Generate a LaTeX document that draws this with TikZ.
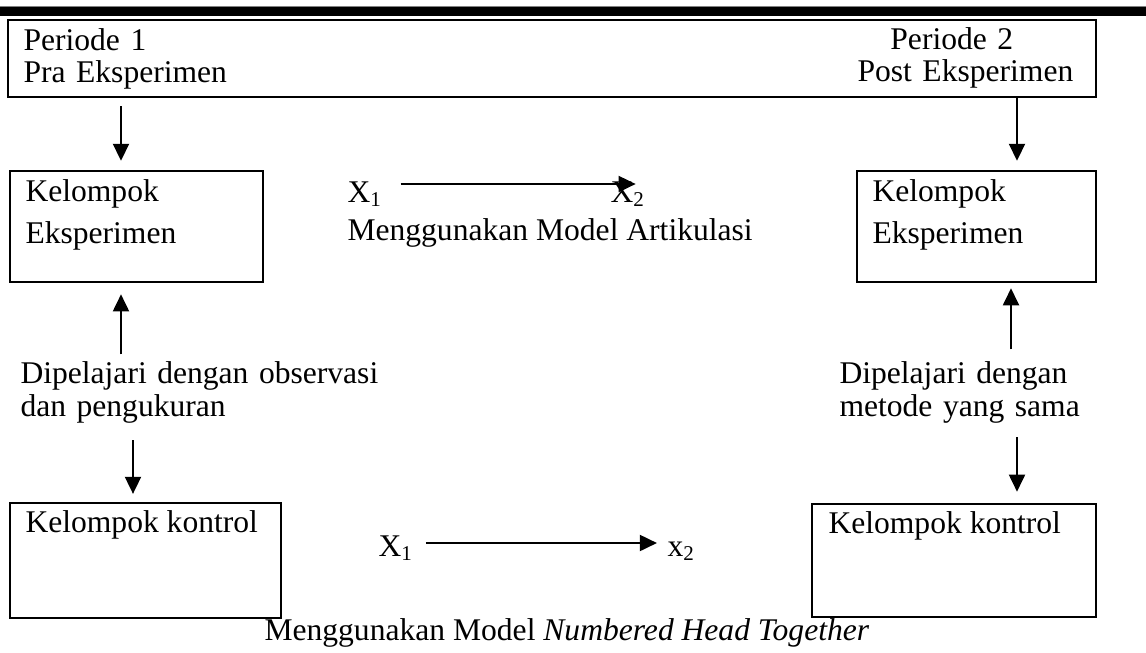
\documentclass[tikz,border=0pt]{standalone}
\usepackage{fontspec}
\setmainfont{Liberation Serif}
\usetikzlibrary{arrows.meta}
\usetikzlibrary{fit}

\tikzset{
  kotak/.style={draw, line width=0.9pt, inner sep=0pt},
  teks/.style={inner sep=0pt, anchor=base west, font=\fontsize{12}{12.9}\selectfont},
  blok/.style={teks, text width=250pt, align=left},
  panah/.style={line width=1pt, -{Triangle[width=6pt,length=6.5pt]}}
}

\begin{document}
\begin{tikzpicture}[x=0.38pt, y=-0.38pt]
  \useasboundingbox (0,0) rectangle (1146,652);
  % garis kepala halaman
  \draw[gray, line width=0.4pt] (0,6.5) -- (1146,6.5);
  \fill (0,7) rectangle (1146,16);

  % kotak periode
  \node[kotak, fit={(8,20) (1096,97)}] (periode) {};
  \node[blok, font=\fontsize{12}{12.5}\selectfont] (periode1) at (23,50) {Periode 1\\Pra Eksperimen};
  \node[blok, font=\fontsize{12}{12.5}\selectfont] (periode2) at (857,49) {\hspace*{12.5pt}Periode 2\\Post Eksperimen};

  % kelompok eksperimen
  \node[kotak, fit={(10,171) (263,282)}] (eks1) {};
  \node[kotak, fit={(857,171) (1096,282)}] (eks2) {};
  \node[blok, font=\fontsize{12}{16}\selectfont] (teks1) at (25,201) {Kelompok\\Eksperimen};
  \node[blok, font=\fontsize{12}{16}\selectfont] (teks2) at (872,201) {Kelompok\\Eksperimen};

  % kelompok kontrol
  \node[kotak, fit={(10,503) (281,618)}] (kon1) {};
  \node[kotak, fit={(812,504) (1096,617)}] (kon2) {};
  \node[teks] (teks3) at (25,532) {Kelompok kontrol};
  \node[teks] (teks4) at (828,533) {Kelompok kontrol};

  % keterangan
  \node[blok] (ket1) at (20,383) {Dipelajari dengan observasi\\dan pengukuran};
  \node[blok] (ket2) at (839,383) {Dipelajari dengan\\metode yang sama};

  % perlakuan
  \node[teks] (xa1) at (347,202) {X\textsubscript{1}};
  \node[teks] (xa2) at (610,202) {X\textsubscript{2}};
  \node[teks] (model1) at (347,240) {Menggunakan Model Artikulasi};
  \node[teks] (xb1) at (378,556) {X\textsubscript{1}};
  \node[teks] (xb2) at (667,556) {x\textsubscript{2}};
  \node[teks] (model2) at (264,640) {Menggunakan Model \textit{Numbered Head Together}};

  % arah panah
  \coordinate (kolA) at (121,0);
  \coordinate (kolB) at (133,0);
  \coordinate (kolC) at (1017,0);
  \coordinate (kolD) at (1011,0);
  \coordinate (garisA) at (0,184);
  \coordinate (garisB) at (0,543);
  \draw[panah, shorten <=3pt, shorten >=3.4pt] (periode.south -| kolA) -- (eks1.north -| kolA);
  \draw[panah, shorten >=3.4pt] (periode.south -| kolC) -- (eks2.north -| kolC);
  \draw[panah, shorten <=2.4pt, shorten >=4.2pt] (ket1.north -| kolA) -- (eks1.south -| kolA);
  \draw[panah, shorten <=6.1pt, shorten >=3pt] (ket1.south -| kolB) -- (kon1.north -| kolB);
  \draw[panah, shorten <=4.3pt, shorten >=1.9pt] (ket2.north -| kolD) -- (eks2.south -| kolD);
  \draw[panah, shorten <=4.9pt, shorten >=4.2pt] (ket2.south -| kolC) -- (kon2.north -| kolC);
  \draw[panah, shorten <=6.8pt, shorten >=3.8pt] (xa1.east |- garisA) -- (xa2.east |- garisA);
  \draw[panah, shorten <=4.6pt, shorten >=3.8pt] (xb1.east |- garisB) -- (xb2.west |- garisB);
\end{tikzpicture}
\end{document}
